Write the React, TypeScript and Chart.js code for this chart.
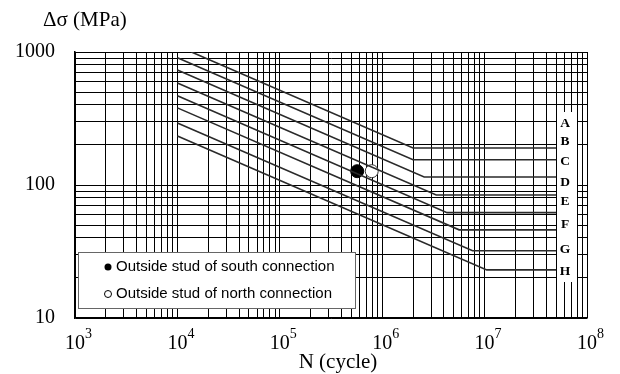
import { useEffect, useRef } from 'react';
import { Chart, registerables } from 'chart.js';

Chart.register(...registerables);

// Fatigue design categories (S-N curves)
const categories = ['A', 'B', 'C', 'D', 'E', 'F', 'G', 'H'];
const startCycles = [1.37e4, 1e4, 1e4, 1e4, 1e4, 1e4, 1e4, 1e4];
const startStress = [1000, 906, 731, 585, 468, 380, 292, 234];
const kneeCycles = [2.0e6, 2.0e6, 2.57e6, 3.37e6, 4.3e6, 5.64e6, 7.63e6, 1.05e7];
const limitStress = [190, 155, 115, 84, 62, 46, 32, 23];
const endCycles = [5e7, 5e7, 5e7, 5e7, 5e7, 5e7, 5e7, 5e7];

// Test results
const testLabels = ['Outside stud of south connection', 'Outside stud of north connection'];
const testCycles = [5.7e5, 7.9e5];
const testStress = [127, 127];

// Axes
const xExponents = [3, 4, 5, 6, 7, 8];
const yTickLabels = ['10', '100', '1000'];
const minorMultipliers = [1, 2, 3, 4, 5, 6, 7, 8, 9];

const xGrid: number[] = [];
for (let i = 0; i < xExponents.length; i++) {
  const d = Math.pow(10, xExponents[i]);
  if (i === xExponents.length - 1) xGrid.push(d);
  else minorMultipliers.forEach((m) => xGrid.push(m * d));
}
const yDecades = yTickLabels.map(Number);
const yGrid: number[] = [];
for (let i = 0; i < yDecades.length; i++) {
  const d = yDecades[i];
  if (i === yDecades.length - 1) yGrid.push(d);
  else minorMultipliers.forEach((m) => yGrid.push(m * d));
}

const SERIF = "'Liberation Serif', 'Times New Roman', serif";
const SANS = "'Liberation Sans', Arial, sans-serif";

// label pixel offsets from top of plot area (style/layout)
const letterOffsets = [72, 90, 110, 131, 150, 173, 198, 220];

const overlayPlugin = {
  id: 'overlay',
  afterDatasetsDraw(chart: any) {
    const ctx = chart.ctx;
    const area = chart.chartArea;
    ctx.save();
    // letter box
    ctx.fillStyle = '#fff';
    ctx.fillRect(area.right - 30, area.top + 60, 20, 170);
    ctx.fillStyle = '#000';
    ctx.font = `bold 13.5px ${SERIF}`;
    ctx.textAlign = 'center';
    ctx.textBaseline = 'middle';
    categories.forEach((c, i) => {
      ctx.fillText(c, area.right - 22, area.top + letterOffsets[i]);
    });

    // legend box
    const lx = area.left + 3;
    const ly = area.bottom - 66;
    const lw = 277;
    const lh = 56;
    ctx.fillStyle = '#fff';
    ctx.fillRect(lx, ly, lw, lh);
    ctx.strokeStyle = '#666';
    ctx.lineWidth = 1;
    ctx.strokeRect(Math.round(lx) + 0.5, Math.round(ly) + 0.5, lw, lh);
    ctx.font = `15px ${SANS}`;
    ctx.textAlign = 'left';
    ctx.textBaseline = 'middle';
    testLabels.forEach((t, i) => {
      const yy = ly + 15 + i * 27;
      ctx.beginPath();
      ctx.arc(lx + 30, yy, 3.5, 0, Math.PI * 2);
      if (i === 0) {
        ctx.fillStyle = '#000';
        ctx.fill();
      } else {
        ctx.fillStyle = '#fff';
        ctx.fill();
        ctx.strokeStyle = '#000';
        ctx.stroke();
      }
      ctx.fillStyle = '#000';
      ctx.fillText(t, lx + 38, yy);
    });
    ctx.restore();
  },
  afterDraw(chart: any) {
    const ctx = chart.ctx;
    const area = chart.chartArea;
    const xs = chart.scales.x;
    ctx.save();
    ctx.fillStyle = '#000';
    ctx.textBaseline = 'alphabetic';
    // x tick labels with superscripts
    xExponents.forEach((e) => {
      const px = xs.getPixelForValue(Math.pow(10, e));
      ctx.font = `20px ${SERIF}`;
      ctx.textAlign = 'center';
      const w = ctx.measureText('10').width;
      ctx.fillText('10', px, area.bottom + 31);
      ctx.font = `14px ${SERIF}`;
      ctx.textAlign = 'left';
      ctx.fillText(String(e), px + w / 2, area.bottom + 20);
    });
    // axis titles
    ctx.font = `21px ${SERIF}`;
    ctx.textAlign = 'center';
    ctx.fillText('N (cycle)', (area.left + area.right) / 2 + 7, area.bottom + 50);
    ctx.textAlign = 'left';
    ctx.fillText('Δσ (MPa)', area.left - 32, area.top - 26);
    ctx.restore();
  },
};

export default function App() {
  const ref = useRef<HTMLCanvasElement | null>(null);

  useEffect(() => {
    if (!ref.current) return;
    const curveSets = categories.map((c, i) => ({
      label: c,
      data: [
        { x: startCycles[i], y: startStress[i] },
        { x: kneeCycles[i], y: limitStress[i] },
        { x: endCycles[i], y: limitStress[i] },
      ],
      showLine: true,
      borderColor: '#2a2a2a',
      borderWidth: 1.6,
      pointRadius: 0,
      fill: false,
    }));
    const pointSets = testLabels.map((t, i) => ({
      label: t,
      data: [{ x: testCycles[i], y: testStress[i] }],
      showLine: false,
      pointRadius: 6.5,
      pointBackgroundColor: i === 0 ? '#000' : '#fff',
      pointBorderColor: i === 0 ? '#000' : '#333',
      pointBorderWidth: 1,
    }));

    const chart = new Chart(ref.current, {
      type: 'scatter',
      data: { datasets: [...curveSets, ...pointSets] as any },
      options: {
        animation: false,
        responsive: false,
        layout: { padding: { top: 52, right: 33, left: 0, bottom: 0 } },
        plugins: { legend: { display: false }, tooltip: { enabled: false } },
        scales: {
          x: {
            type: 'logarithmic',
            min: 1e3,
            max: 1e8,
            afterBuildTicks: (s: any) => {
              s.ticks = xGrid.map((v) => ({ value: v }));
            },
            afterFit: (s: any) => {
              s.height = 56;
            },
            ticks: { display: false, autoSkip: false },
            grid: { color: '#000', lineWidth: 1, drawTicks: false },
            border: { display: true, color: '#000', width: 1.5 },
          },
          y: {
            type: 'logarithmic',
            min: 10,
            max: 1000,
            afterBuildTicks: (s: any) => {
              s.ticks = yGrid.map((v) => ({ value: v }));
            },
            afterFit: (s: any) => {
              s.width = 75;
            },
            ticks: {
              autoSkip: false,
              padding: 20,
              color: '#000',
              font: { family: SERIF, size: 20 },
              callback: (v: any) => (yTickLabels.includes(String(v)) ? String(v) : ''),
            },
            grid: { color: '#000', lineWidth: 1, drawTicks: false },
            border: { display: true, color: '#000', width: 1.5 },
          },
        },
      },
      plugins: [overlayPlugin],
    });
    return () => chart.destroy();
  }, []);

  return (
    <div style={{ position: 'fixed', left: 0, top: 0, width: 620, height: 374, background: '#fff' }}>
      <canvas ref={ref} width={620} height={374} />
    </div>
  );
}
